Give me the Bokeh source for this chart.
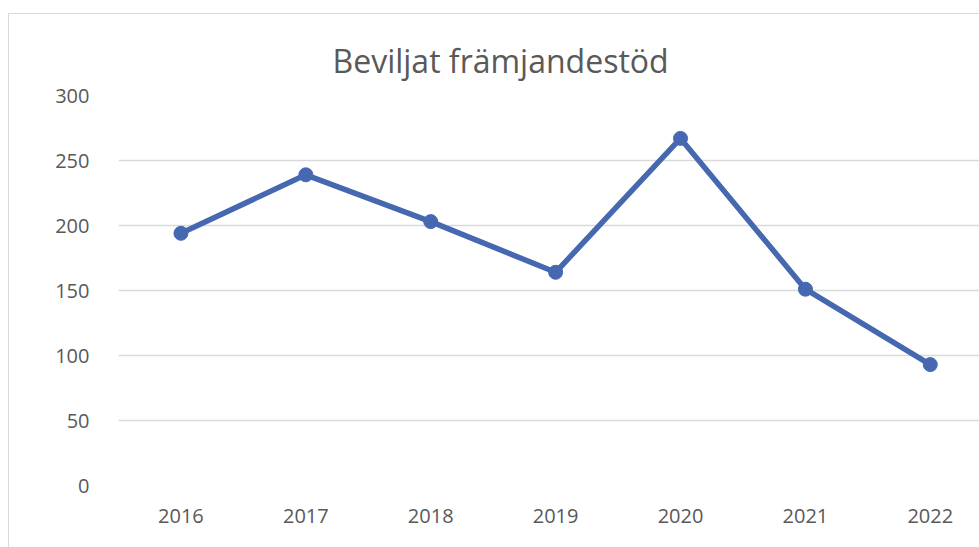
from bokeh.plotting import figure
from bokeh.embed import file_html
from bokeh.resources import INLINE
from bokeh.models import FixedTicker, Range1d, ColumnDataSource

years = ["2016", "2017", "2018", "2019", "2020", "2021", "2022"]
values = [194, 239, 203, 164, 267, 151, 93]
y_ticks = [0, 50, 100, 150, 200, 250, 300]

positions = list(range(len(years)))
src = ColumnDataSource(dict(x=positions, y=values))

FONT = "Open Sans"
TXT = "#595959"
LINE = "#4668b0"

p = figure(width=971, height=534, output_backend="svg", toolbar_location=None,
           x_range=Range1d(-0.5, 6.402), y_range=Range1d(0, 300),
           min_border_left=109, min_border_right=0, min_border_top=81, min_border_bottom=63,
           title="Beviljat främjandestöd")
p.margin = (13, 0, 0, 8)
p.styles = {"border-left": "1px solid #d9d9d9", "border-top": "1px solid #d9d9d9"}
p.outline_line_color = None

p.title.align = "left"
p.title.offset = 214
p.title.text_font = FONT
p.title.text_font_size = "32px"
p.title.text_font_style = "normal"
p.title.text_color = TXT
p.title.standoff = 27

p.line("x", "y", source=src, line_color=LINE, line_width=5.5)
p.scatter("x", "y", source=src, size=14, fill_color=LINE, line_color=LINE)

p.xaxis.ticker = FixedTicker(ticks=positions)
p.xaxis.major_label_overrides = {i: y for i, y in enumerate(years)}
p.yaxis.ticker = FixedTicker(ticks=y_ticks)

for ax in (p.xaxis[0], p.yaxis[0]):
    ax.axis_line_color = None
    ax.major_tick_line_color = None
    ax.minor_tick_line_color = None
    ax.major_label_text_font = FONT
    ax.major_label_text_font_size = "20px"
    ax.major_label_text_color = TXT
p.yaxis.major_label_standoff = 23
p.xaxis.major_label_standoff = 17

p.xgrid.grid_line_color = None
p.ygrid.grid_line_color = "#d9d9d9"
p.ygrid.grid_line_width = 1.5

open("out.html", "w").write(file_html(p, INLINE))
